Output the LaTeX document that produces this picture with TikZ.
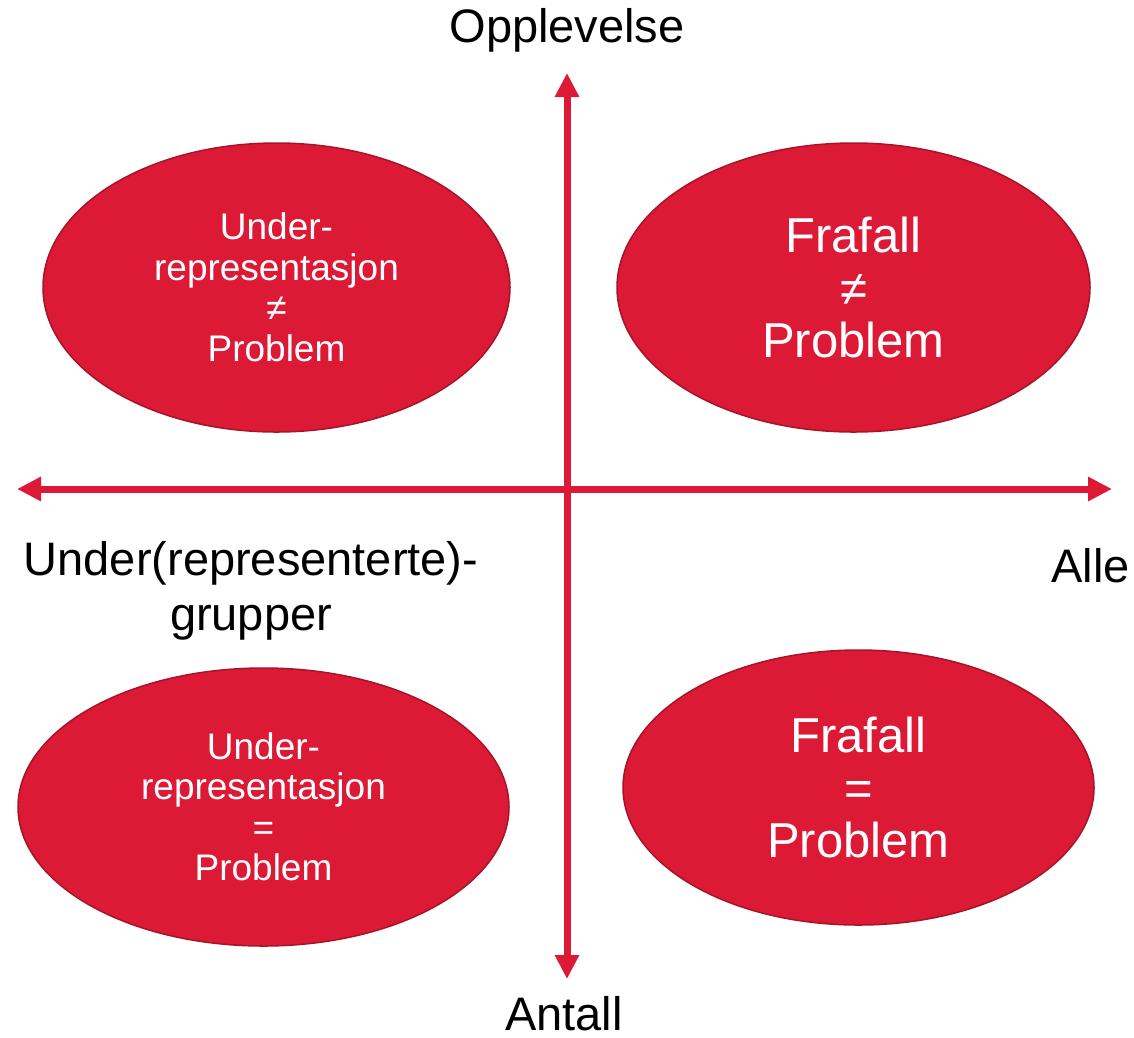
\documentclass[tikz,border=0pt]{standalone}
\usepackage{fontspec}
\setmainfont{Liberation Sans}
\usetikzlibrary{shapes.geometric,arrows.meta}
\definecolor{qred}{RGB}{220,26,54}
\definecolor{qedge}{RGB}{165,20,40}
\tikzset{
  blob/.style={ellipse,fill=qred,draw=qedge,line width=1.5pt,text=white,align=center,inner sep=0pt},
  smalltxt/.style={font=\fontsize{37}{40.5}\selectfont},
  bigtxt/.style={font=\fontsize{49}{52.5}\selectfont},
  axislbl/.style={font=\fontsize{47}{55}\selectfont,inner sep=0pt,text=black},
  axisline/.style={draw=qred,line width=7pt,{Triangle[length=24pt,width=23pt]}-{Triangle[length=24pt,width=23pt]}}
}
\begin{document}
\begin{tikzpicture}[x=1pt,y=-1pt]
\useasboundingbox (0,0) rectangle (1134,1037);
% ellipses
\node[blob,smalltxt,minimum width=467pt,minimum height=289pt] (tl) at (276.5,287.5) {Under-\\representasjon\\≠\\Problem};
\node[blob,bigtxt,minimum width=473pt,minimum height=289pt] (tr) at (853.5,287.5) {Frafall\\≠\\Problem};
\node[blob,smalltxt,minimum width=491pt,minimum height=278pt] (bl) at (263.5,807) {Under-\\representasjon\\=\\Problem};
\node[blob,bigtxt,minimum width=471pt,minimum height=275pt] (br) at (858.5,787.5) {Frafall\\=\\Problem};
% axes
\coordinate (top) at (567,73);
\coordinate (bot) at (567,979);
\coordinate (lft) at (17,489);
\coordinate (rgt) at (1112,489);
\draw[axisline] (bot) -- (top);
\draw[axisline] (lft) -- (rgt);
% labels
\node[axislbl,anchor=base] (opp) at (567,42) {Opplevelse};
\node[axislbl,anchor=base] (ant) at (564,1030) {Antall};
\node[axislbl,anchor=base] (und) at (251,575) {Under(representerte)-};
\node[axislbl,anchor=base] (gru) at (251,630) {grupper};
\node[axislbl,anchor=base east] (alle) at (1130,582) {Alle};
\end{tikzpicture}
\end{document}
